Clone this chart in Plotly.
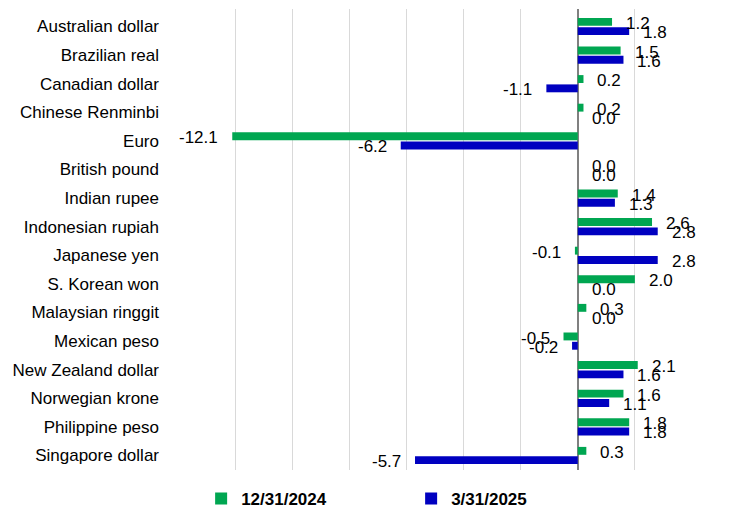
import plotly.graph_objects as go

categories = ["Australian dollar", "Brazilian real", "Canadian dollar", "Chinese Renminbi",
              "Euro", "British pound", "Indian rupee", "Indonesian rupiah", "Japanese yen",
              "S. Korean won", "Malaysian ringgit", "Mexican peso", "New Zealand dollar",
              "Norwegian krone", "Philippine peso", "Singapore dollar"]
dec2024 = [1.2, 1.5, 0.2, 0.2, -12.1, 0.0, 1.4, 2.6, -0.1, 2.0, 0.3, -0.5, 2.1, 1.6, 1.8, 0.3]
mar2025 = [1.8, 1.6, -1.1, 0.0, -6.2, 0.0, 1.3, 2.8, 2.8, 0.0, 0.0, -0.2, 1.6, 1.1, 1.8, -5.7]
series_names = ["12/31/2024", "3/31/2025"]
colors = ["#00A651", "#0000C0"]

FONT = "Liberation Sans, Arial, sans-serif"

fig = go.Figure()
for name, vals, col in zip(series_names, [dec2024, mar2025], colors):
    fig.add_trace(go.Bar(
        y=categories, x=vals, orientation="h", name=name,
        marker=dict(color=col, line=dict(width=0)),
        cliponaxis=False,
    ))

# data labels, placed next to each bar end
for vals, yshift in zip([dec2024, mar2025], [3, -6]):
    for cat, v in zip(categories, vals):
        fig.add_annotation(
            x=v, y=cat, xref="x", yref="y", text=f"{v:.1f}", showarrow=False,
            xanchor="left" if v >= 0 else "right",
            xshift=12 if v >= 0 else -12, yshift=yshift,
            font=dict(family=FONT, size=17, color="#000000"),
        )

fig.update_layout(
    width=732, height=501,
    margin=dict(l=170, r=48, t=1, b=39, autoexpand=False),
    paper_bgcolor="white", plot_bgcolor="white",
    barmode="group", bargap=0.35, bargroupgap=0.15,
    font=dict(family=FONT, size=17, color="#000000"),
    legend=dict(orientation="h", x=0.045, xanchor="left", y=-0.063, yanchor="middle",
                font=dict(family=FONT, size=17, color="#000000", weight="bold"),
                entrywidth=165, traceorder="normal"),
    xaxis=dict(range=[-14, 4], dtick=2, showticklabels=False, showgrid=True,
               gridcolor="#D9D9D9", gridwidth=1, zeroline=True, zerolinecolor="#808080",
               zerolinewidth=2, showline=False, fixedrange=True, automargin=False),
    yaxis=dict(autorange="reversed", showgrid=False, showline=False, ticks="",
               ticklabelstandoff=18, tickfont=dict(family=FONT, size=17), automargin=False),
)

fig.write_html("out.html")
